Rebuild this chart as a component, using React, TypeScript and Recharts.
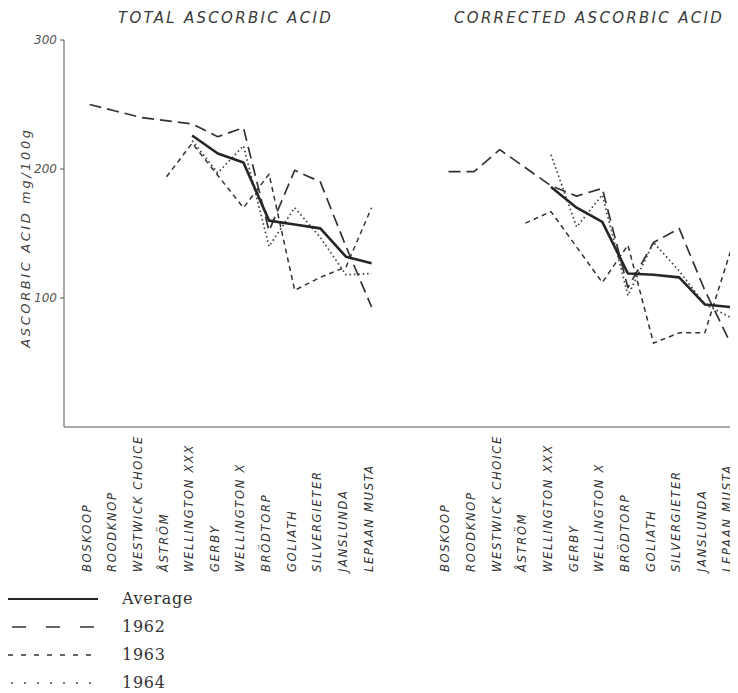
import { Line, LineChart, XAxis, YAxis } from "recharts";

// varieties, same order in both panels
const varieties = [
  "BOSKOOP",
  "ROODKNOP",
  "WESTWICK CHOICE",
  "ÅSTRÖM",
  "WELLINGTON XXX",
  "GERBY",
  "WELLINGTON X",
  "BRÖDTORP",
  "GOLIATH",
  "SILVERGIETER",
  "JANSLUNDA",
  "LEPAAN MUSTA",
];

// mg/100g (null = no value)
const totalAvg = [null, null, null, null, 226, 212, 205, 160, 157, 154, 132, 127];
const total1962 = [250, 245, 240, null, 235, 225, 232, 152, 199, 190, 140, 93];
const total1963 = [null, null, null, 194, 220, null, 170, 196, 106, 116, 124, 170];
const total1964 = [null, null, null, null, 222, 197, 218, 140, 170, 147, 118, 119];

const corrAvg = [null, null, null, null, 186, 170, 159, 119, 118, 116, 95, 93];
const corr1962 = [198, 198, 215, null, 187, 179, 185, 108, 143, 154, 106, 65];
const corr1963 = [null, null, null, 158, 167, null, 112, 141, 65, 73, 73, 136];
const corr1964 = [null, null, null, null, 211, 155, 180, 102, 143, 121, 95, 85];

const yTicks = [100, 200, 300];

const legendItems = ["Average", "1962", "1963", "1964"];

// second panel starts after a gap of two empty slots
const RIGHT_START = 15;

const rows = [
  ...varieties.map((_, i) => ({
    x: i + 1,
    tAvg: totalAvg[i],
    t62: total1962[i],
    t63: total1963[i],
    t64: total1964[i],
  })),
  ...varieties.map((_, i) => ({
    x: i + RIGHT_START,
    cAvg: corrAvg[i],
    c62: corr1962[i],
    c63: corr1963[i],
    c64: corr1964[i],
  })),
];

const xTicks = rows.map((r) => r.x);
const nameAt = (v: number) =>
  v >= RIGHT_START ? varieties[v - RIGHT_START] : varieties[v - 1];

const INK = "#333";
const LABEL_FONT = "'DejaVu Sans', sans-serif";

const styles = {
  avg: { stroke: "#262626", strokeWidth: 2.6, dash: undefined as string | undefined },
  y62: { stroke: INK, strokeWidth: 1.7, dash: "12 6" },
  y63: { stroke: INK, strokeWidth: 1.5, dash: "5 4" },
  y64: { stroke: "#444", strokeWidth: 1.7, dash: "1.6 2.8" },
};

const legendDash = [undefined, "14 20", "5 8", "2 11"];
const legendStart = [7, 12, 8, 11];

function VarietyTick(props: any) {
  const { x, y, payload } = props;
  const ty = y + 145;
  return (
    <text
      x={x + 1}
      y={ty}
      transform={`rotate(-90 ${x + 1} ${ty})`}
      textAnchor="start"
      fontFamily={LABEL_FONT}
      fontStyle="italic"
      fontSize={11.5}
      letterSpacing={1.7}
      fill="#333"
    >
      {nameAt(payload.value)}
    </text>
  );
}

function ValueTick(props: any) {
  const { x, y, payload } = props;
  return (
    <text
      x={x - 1}
      y={y + 4}
      textAnchor="end"
      fontFamily={LABEL_FONT}
      fontStyle="italic"
      fontSize={12}
      fill="#555"
    >
      {payload.value}
    </text>
  );
}

const titleStyle = {
  position: "absolute" as const,
  top: 9,
  fontFamily: LABEL_FONT,
  fontStyle: "italic",
  fontSize: 15,
  color: "#3a3a3a",
  whiteSpace: "nowrap" as const,
};

function series(key: string, s: typeof styles.avg, connect = false) {
  return (
    <Line
      key={key}
      type="linear"
      dataKey={key}
      stroke={s.stroke}
      strokeWidth={s.strokeWidth}
      strokeDasharray={s.dash}
      strokeLinejoin="round"
      dot={false}
      activeDot={false}
      connectNulls={connect}
      isAnimationActive={false}
    />
  );
}

export default function App() {
  const legendStyles = [styles.avg, styles.y62, styles.y63, styles.y64];
  return (
    <div
      style={{
        position: "relative",
        width: 738,
        height: 693,
        margin: "-8px 0 0 -8px",
        background: "#fff",
      }}
    >
      <LineChart
        width={738}
        height={693}
        data={rows}
        margin={{ top: 40, right: 5, bottom: 116, left: 0 }}
      >
        <XAxis
          type="number"
          dataKey="x"
          domain={[0, 26.1]}
          ticks={xTicks}
          interval={0}
          tick={<VarietyTick />}
          tickLine={false}
          tickSize={0}
          tickMargin={0}
          height={150}
          axisLine={{ stroke: "#555", strokeWidth: 1 }}
        />
        <YAxis
          domain={[0, 300]}
          ticks={yTicks}
          tick={<ValueTick />}
          tickSize={4}
          tickLine={{ stroke: "#555" }}
          axisLine={{ stroke: "#555", strokeWidth: 1 }}
          width={64}
          label={{
            value: "ASCORBIC ACID mg/100g",
            angle: -90,
            position: "insideLeft",
            dx: 20,
            dy: 4,
            style: {
              fontFamily: LABEL_FONT,
              fontStyle: "italic",
              fontSize: 13,
              letterSpacing: 2.6,
              fill: "#444",
              textAnchor: "middle",
            },
          }}
        />
        {series("t62", styles.y62, true)}
        {series("t63", styles.y63, true)}
        {series("t64", styles.y64)}
        {series("tAvg", styles.avg)}
        {series("c62", styles.y62, true)}
        {series("c63", styles.y63, true)}
        {series("c64", styles.y64)}
        {series("cAvg", styles.avg)}
      </LineChart>

      <div style={{ ...titleStyle, left: 118, letterSpacing: 2.3 }}>
        TOTAL ASCORBIC ACID
      </div>
      <div style={{ ...titleStyle, left: 454, letterSpacing: 2.3 }}>
        CORRECTED ASCORBIC ACID
      </div>

      <svg
        width={260}
        height={113}
        style={{ position: "absolute", left: 0, top: 580 }}
      >
        {legendItems.map((name, i) => {
          const cy = 19 + i * 28;
          return (
            <g key={name}>
              <line
                x1={legendStart[i]}
                x2={98}
                y1={cy}
                y2={cy}
                stroke={legendStyles[i].stroke}
                strokeWidth={i === 0 ? 2.2 : 1.5}
                strokeDasharray={legendDash[i]}
              />
              <text
                x={122}
                y={cy + 5}
                fontFamily="'DejaVu Serif', serif"
                fontSize={16}
                letterSpacing={0.7}
                fill="#333"
              >
                {name}
              </text>
            </g>
          );
        })}
      </svg>
    </div>
  );
}
